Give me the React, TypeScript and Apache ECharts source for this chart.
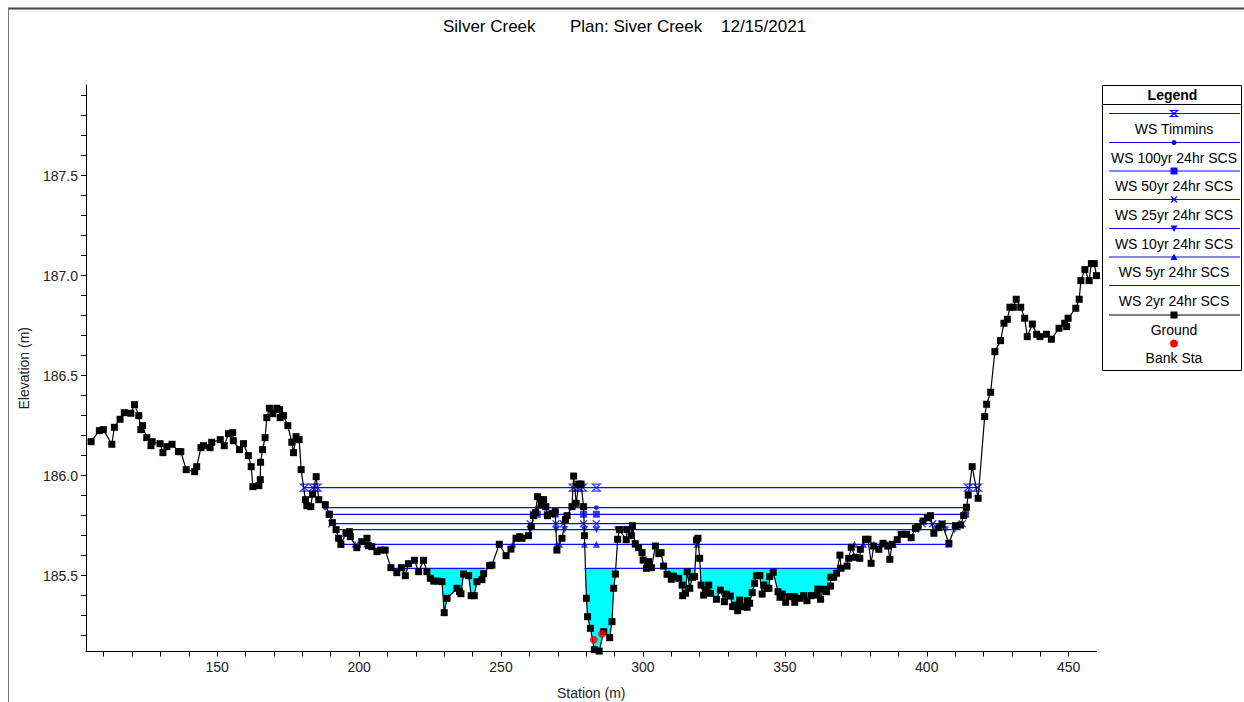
import React, { useEffect, useRef } from "react";
import * as echarts from "echarts";

// ---------- data ----------
const groundStation = [
  105.6, 108.5, 109.9, 112.9, 113.8, 115.8, 117.3, 119.6, 120.9, 122.4, 123.1, 123.7, 125.2, 126.7, 127.1,
  129.9, 130.9, 132.3, 134.1, 136.4, 137.2, 139.1, 142.1, 142.8, 144.3, 145.2, 147.5, 148.1, 151.1, 152.5,
  154.0, 155.5, 155.7, 157.9, 159.3, 161.0, 162.0, 162.6, 164.7, 165.2, 165.3, 166.0, 166.9, 167.5, 168.4,
  169.6, 171.0, 172.0, 172.2, 173.4, 174.9, 176.3, 176.9, 177.8, 178.9, 179.6, 181.1, 181.6, 183.0, 183.6,
  184.9, 185.8, 188.1, 189.5, 190.6, 191.9, 192.8, 193.6, 195.4, 196.6, 196.9, 199.2, 201.0, 202.8, 203.3,
  204.5, 206.3, 207.5, 209.2, 211.2, 213.3, 214.9, 216.3, 217.4, 219.5, 221.0, 222.7, 223.9, 225.1, 226.3,
  227.5, 229.2, 230.0, 231.0, 234.5, 235.4, 235.9, 236.8, 238.6, 239.5, 240.6, 241.5, 243.3, 243.9, 246.0,
  246.8, 249.4, 251.8, 253.5, 255.3, 256.6, 257.4, 259.7, 260.7, 261.5, 262.2, 262.9, 264.1, 264.2, 265.0,
  265.8, 266.4, 268.0, 269.1, 269.7, 271.5, 272.7, 273.3, 275.0, 275.6, 276.5, 277.4, 278.2, 279.1, 279.4,
  280.1, 280.5, 281.5, 282.9, 284.6, 286.2, 288.3, 289.1, 289.7, 290.3, 291.1, 291.7, 294.1, 294.4, 295.9,
  296.3, 297.3, 298.5, 299.7, 300.1, 301.2, 302.0, 303.0, 304.4, 305.6, 306.4, 307.3, 308.5, 310.0, 310.8,
  312.6, 313.8, 314.0, 315.0, 315.6, 316.5, 317.4, 318.2, 318.9, 319.4, 320.0, 320.5, 321.4, 322.4, 323.2,
  323.8, 325.9, 327.3, 328.7, 329.4, 330.8, 331.6, 332.6, 333.4, 334.1, 334.9, 336.7, 336.8, 337.6, 338.5,
  339.3, 340.0, 341.2, 342.0, 342.6, 343.8, 344.4, 344.7, 345.9, 347.6, 348.3, 349.1, 350.3, 351.5, 353.3,
  353.5, 355.4, 356.6, 357.8, 359.2, 361.4, 361.6, 362.6, 363.6, 364.7, 366.1, 366.2, 367.2, 368.2, 369.4,
  369.8, 371.9, 372.5, 373.4, 374.9, 376.4, 376.6, 378.4, 379.3, 380.4, 381.3, 383.1, 384.6, 386.3, 387.0,
  387.8, 389.6, 391.0, 392.9, 394.5, 396.0, 396.9, 398.7, 400.2, 401.3, 402.5, 404.3, 405.4, 407.8, 410.1,
  411.9, 413.0, 414.0, 414.6, 416.0, 418.1, 420.4, 421.1, 422.5, 424.0, 426.0, 427.2, 428.4, 429.3, 430.5,
  431.5, 433.1, 434.5, 435.4, 437.2, 438.7, 439.9, 442.2, 443.9, 446.6, 448.6, 449.3, 449.8, 452.5, 453.7,
  454.3, 455.7, 457.2, 458.0, 459.0, 459.8,
];
const groundElev = [
  186.17, 186.225, 186.23, 186.157, 186.242, 186.282, 186.315, 186.312, 186.355, 186.3, 186.23, 186.25, 186.19, 186.15, 186.17,
  186.16, 186.115, 186.145, 186.157, 186.12, 186.12, 186.03, 186.02, 186.045, 186.14, 186.15, 186.14, 186.167, 186.18, 186.15,
  186.21, 186.215, 186.175, 186.13, 186.16, 186.1, 186.045, 185.945, 185.95, 185.98, 186.067, 186.13, 186.19, 186.29, 186.337,
  186.31, 186.337, 186.33, 186.29, 186.3, 186.25, 186.167, 186.115, 186.195, 186.18, 186.03, 185.88, 185.85, 185.845, 185.907,
  185.995, 185.88, 185.855, 185.807, 185.765, 185.73, 185.687, 185.657, 185.712, 185.72, 185.695, 185.64, 185.67, 185.687, 185.65,
  185.645, 185.62, 185.628, 185.628, 185.54, 185.515, 185.54, 185.5, 185.56, 185.577, 185.52, 185.577, 185.52, 185.487, 185.473,
  185.473, 185.47, 185.315, 185.387, 185.437, 185.42, 185.41, 185.508, 185.5, 185.4, 185.4, 185.47, 185.48, 185.51, 185.55,
  185.553, 185.657, 185.6, 185.633, 185.687, 185.695, 185.687, 185.7, 185.745, 185.8, 185.815, 185.895, 185.88, 185.853, 185.88,
  185.845, 185.8, 185.81, 185.82, 185.628, 185.687, 185.78, 185.8, 185.845, 185.998, 185.862, 185.958, 185.958, 185.845, 185.7,
  185.387, 185.295, 185.237, 185.13, 185.123, 185.22, 185.19, 185.27, 185.437, 185.508, 185.682, 185.73, 185.68, 185.73, 185.7,
  185.75, 185.66, 185.64, 185.615, 185.578, 185.537, 185.57, 185.54, 185.648, 185.61, 185.615, 185.548, 185.507, 185.482, 185.498,
  185.487, 185.453, 185.4, 185.412, 185.52, 185.437, 185.492, 185.495, 185.678, 185.687, 185.587, 185.453, 185.403, 185.428, 185.453,
  185.412, 185.382, 185.428, 185.37, 185.408, 185.398, 185.345, 185.353, 185.325, 185.378, 185.345, 185.342, 185.375, 185.362, 185.415,
  185.462, 185.5, 185.5, 185.408, 185.453, 185.437, 185.437, 185.495, 185.517, 185.42, 185.392, 185.408, 185.367, 185.395, 185.395,
  185.367, 185.387, 185.4, 185.375, 185.4, 185.403, 185.433, 185.382, 185.432, 185.42, 185.448, 185.492, 185.492, 185.512, 185.603,
  185.537, 185.548, 185.587, 185.642, 185.592, 185.587, 185.632, 185.682, 185.682, 185.562, 185.648, 185.632, 185.662, 185.648, 185.582,
  185.657, 185.68, 185.707, 185.707, 185.69, 185.737, 185.745, 185.773, 185.79, 185.8, 185.712, 185.74, 185.758, 185.662, 185.75,
  185.753, 185.8, 185.842, 185.903, 186.045, 185.887, 186.295, 186.357, 186.417, 186.62, 186.675, 186.762, 186.782, 186.842, 186.842,
  186.882, 186.842, 186.787, 186.695, 186.758, 186.707, 186.695, 186.707, 186.682, 186.737, 186.762, 186.745, 186.787, 186.837, 186.882,
  186.975, 187.03, 186.975, 187.06, 187.06, 187.0,
];

const bankStation = [282.7, 285.6];
const bankElev = [185.18, 185.21];

const wsNames = [
  "WS Timmins",
  "WS 100yr 24hr SCS",
  "WS 50yr 24hr SCS",
  "WS 25yr 24hr SCS",
  "WS 10yr 24hr SCS",
  "WS 5yr 24hr SCS",
  "WS 2yr 24hr SCS",
];
const wsElev = [185.94, 185.84, 185.807, 185.76, 185.73, 185.657, 185.537];
const wsSegments = [
  [[180.4, 418.6]],
  [[188.1, 414.0]],
  [[189.5, 413.7]],
  [[190.4, 412.6]],
  [[191.9, 411.9]],
  [[193.6, 408.4]],
  [[212.0, 244.5], [279.4, 368.9]],
];
const wsMarkers = [
  [180.7, 183.8, 185.2, 275.5, 277.2, 278.7, 283.6, 414.7, 417.9],
  [188.1, 262.7, 265.6, 275.0, 279.1, 283.6, 414.0],
  [189.5, 261.4, 262.8, 266.3, 269.1, 279.1, 283.6, 413.7],
  [190.4, 260.3, 269.4, 272.0, 279.1, 283.6, 398.4, 402.1, 405.4, 412.5],
  [191.9, 260.3, 269.4, 272.4, 279.4, 283.6, 291.0, 292.8, 294.6, 296.3, 396.0, 397.2, 403.1, 406.6, 409.8],
  [193.6, 198.6, 199.7, 202.8, 254.2, 269.7, 270.6, 279.4, 283.6, 297.3, 319.1, 374.5, 377.7, 381.3, 383.7, 386.1, 388.3, 407.7],
  [],
];

const xTickValues = [110, 120, 130, 140, 150, 160, 170, 180, 190, 200, 210, 220, 230, 240, 250, 260, 270, 280, 290, 300, 310, 320, 330, 340, 350, 360, 370, 380, 390, 400, 410, 420, 430, 440, 450];
const xLabelValues = [150, 200, 250, 300, 350, 400, 450];
const yTickValues = [185.2, 185.3, 185.4, 185.5, 185.6, 185.7, 185.8, 185.9, 186.0, 186.1, 186.2, 186.3, 186.4, 186.5, 186.6, 186.7, 186.8, 186.9, 187.0, 187.1, 187.2, 187.3, 187.4, 187.5, 187.6, 187.7, 187.8, 187.9];
const yLabelValues = [185.5, 186.0, 186.5, 187.0, 187.5];

const titleParts = ["Silver Creek", "Plan: Siver Creek", "12/15/2021"];

// ---------- styles ----------
const BLUE = "#0a0aff";
const FONT = "'Liberation Sans', Arial, sans-serif";
const HOURGLASS = "path://M0,0L10,0L0,10L10,10Z";
const XMARK = "path://M0,0L10,10M10,0L0,10";

const wsSymbol = [
  { symbol: HOURGLASS, size: [8, 7], hollow: true, rotate: 0 },
  { symbol: "circle", size: 5, hollow: false, rotate: 0 },
  { symbol: "rect", size: 7, hollow: false, rotate: 0 },
  { symbol: XMARK, size: 7, hollow: true, rotate: 0 },
  { symbol: "triangle", size: 7, hollow: false, rotate: 180 },
  { symbol: "triangle", size: 7, hollow: false, rotate: 0 },
  { symbol: "none", size: 0, hollow: false, rotate: 0 },
];

function groundAt(st: number): number {
  for (let i = 0; i < groundStation.length - 1; i++) {
    const a = groundStation[i];
    const b = groundStation[i + 1];
    if (st >= a && st <= b) {
      const t = b === a ? 0 : (st - a) / (b - a);
      return groundElev[i] + t * (groundElev[i + 1] - groundElev[i]);
    }
  }
  return groundElev[groundElev.length - 1];
}

function buildOption() {
  const series: any[] = [];

  // Cyan water fill for the lowest profile
  const fillIdx = 6;
  series.push({
    type: "custom",
    coordinateSystem: "cartesian2d",
    z: 1,
    silent: true,
    data: wsSegments[fillIdx].map((s) => [s[0], s[1], wsElev[fillIdx]]),
    encode: { x: [0, 1], y: 2 },
    renderItem: (params: any, api: any) => {
      const s0 = api.value(0);
      const s1 = api.value(1);
      const ws = api.value(2);
      const pts: number[][] = [];
      pts.push(api.coord([s0, ws]));
      pts.push(api.coord([s0, Math.min(ws, groundAt(s0))]));
      for (let i = 0; i < groundStation.length; i++) {
        const st = groundStation[i];
        if (st > s0 && st < s1) pts.push(api.coord([st, Math.min(ws, groundElev[i])]));
      }
      pts.push(api.coord([s1, Math.min(ws, groundAt(s1))]));
      pts.push(api.coord([s1, ws]));
      return {
        type: "polygon",
        shape: { points: pts },
        style: { fill: "#00ffff", stroke: "none" },
      };
    },
  });

  // WS lines and markers
  wsNames.forEach((name, k) => {
    const lineData: any[] = [];
    wsSegments[k].forEach((seg, j) => {
      if (j > 0) lineData.push(null);
      lineData.push([seg[0], wsElev[k]]);
      lineData.push([seg[1], wsElev[k]]);
    });
    series.push({
      name,
      type: "line",
      data: lineData,
      showSymbol: false,
      symbol: "none",
      connectNulls: false,
      lineStyle: { color: BLUE, width: 1.3 },
      z: 2,
      silent: true,
    });
    const sym = wsSymbol[k];
    if (wsMarkers[k].length) {
      series.push({
        name: name + " markers",
        type: "scatter",
        data: wsMarkers[k].map((st) => [st, wsElev[k]]),
        symbol: sym.symbol,
        symbolSize: sym.size,
        symbolRotate: sym.rotate,
        itemStyle: sym.hollow
          ? { color: "rgba(0,0,0,0)", borderColor: BLUE, borderWidth: 1.3 }
          : { color: BLUE },
        z: 3,
        silent: true,
      });
    }
  });

  // Ground
  series.push({
    name: "Ground",
    type: "line",
    data: groundStation.map((s, i) => [s, groundElev[i]]),
    symbol: "rect",
    symbolSize: 7,
    showSymbol: true,
    showAllSymbol: true,
    itemStyle: { color: "#000" },
    lineStyle: { color: "#000", width: 1.2 },
    z: 5,
    silent: true,
  });

  // Bank stations
  series.push({
    name: "Bank Sta",
    type: "scatter",
    data: bankStation.map((s, i) => [s, bankElev[i]]),
    symbol: "circle",
    symbolSize: 8,
    itemStyle: { color: "#ff0000" },
    z: 6,
    silent: true,
  });

  // Legend (drawn as graphic)
  const lgX = 1102;
  const lgY = 85;
  const lgW = 139;
  const lgH = 285;
  const lineX0 = 1109;
  const lineX1 = 1240;
  const mx = 1174;
  const rowY = [113.5, 142.5, 171, 199.5, 228.5, 257, 285.5, 315];
  const graphics: any[] = [];
  graphics.push({ type: "line", shape: { x1: 8, y1: 8.5, x2: 1244, y2: 8.5 }, style: { stroke: "#444", lineWidth: 2 }, silent: true });
  graphics.push({ type: "line", shape: { x1: 8.5, y1: 8, x2: 8.5, y2: 702 }, style: { stroke: "#777", lineWidth: 1 }, silent: true });
  graphics.push({
    type: "rect",
    shape: { x: lgX + 0.5, y: lgY + 0.5, width: lgW, height: lgH },
    style: { fill: "#fff", stroke: "#000", lineWidth: 1 },
    z: 10,
    silent: true,
  });
  graphics.push({
    type: "text",
    x: lgX + lgW / 2 + 1,
    y: 95,
    z: 11,
    style: { text: "Legend", fontSize: 14, fontWeight: "bold", fontFamily: FONT, fill: "#000", align: "center", verticalAlign: "middle" },
    silent: true,
  });
  graphics.push({ type: "line", shape: { x1: lgX, y1: 104.5, x2: lgX + lgW, y2: 104.5 }, style: { stroke: "#000", lineWidth: 1 }, z: 11, silent: true });
  const legendNames = [...wsNames, "Ground"];
  legendNames.forEach((nm, i) => {
    const y = rowY[i];
    const isGround = i === 7;
    const col = isGround ? "#000" : BLUE;
    graphics.push({ type: "line", shape: { x1: lineX0, y1: y, x2: lineX1, y2: y }, style: { stroke: col, lineWidth: 1.2 }, z: 11, silent: true });
    if (isGround) {
      graphics.push({ type: "rect", shape: { x: mx - 3.5, y: y - 3.5, width: 7, height: 7 }, style: { fill: "#000" }, z: 12, silent: true });
    } else if (i === 0) {
      graphics.push({ type: "polygon", shape: { points: [[mx - 3.5, y - 3], [mx + 3.5, y - 3], [mx - 3.5, y + 3], [mx + 3.5, y + 3]] }, style: { fill: "none", stroke: BLUE, lineWidth: 1.2 }, z: 12, silent: true });
    } else if (i === 1) {
      graphics.push({ type: "circle", shape: { cx: mx, cy: y, r: 2.5 }, style: { fill: BLUE }, z: 12, silent: true });
    } else if (i === 2) {
      graphics.push({ type: "rect", shape: { x: mx - 3.5, y: y - 3.5, width: 7, height: 7 }, style: { fill: BLUE }, z: 12, silent: true });
    } else if (i === 3) {
      graphics.push({ type: "polyline", shape: { points: [[mx - 3, y - 3], [mx + 3, y + 3]] }, style: { stroke: BLUE, lineWidth: 1.2 }, z: 12, silent: true });
      graphics.push({ type: "polyline", shape: { points: [[mx + 3, y - 3], [mx - 3, y + 3]] }, style: { stroke: BLUE, lineWidth: 1.2 }, z: 12, silent: true });
    } else if (i === 4) {
      graphics.push({ type: "polygon", shape: { points: [[mx - 3.5, y - 3], [mx + 3.5, y - 3], [mx, y + 3.5]] }, style: { fill: BLUE }, z: 12, silent: true });
    } else if (i === 5) {
      graphics.push({ type: "polygon", shape: { points: [[mx - 3.5, y + 3], [mx + 3.5, y + 3], [mx, y - 3.5]] }, style: { fill: BLUE }, z: 12, silent: true });
    }
    graphics.push({
      type: "text",
      x: mx,
      y: y + 15,
      z: 12,
      style: { text: nm, fontSize: 14, fontFamily: FONT, fill: "#000", align: "center", verticalAlign: "middle" },
      silent: true,
    });
  });
  graphics.push({ type: "circle", shape: { cx: mx, cy: 343.5, r: 4 }, style: { fill: "#ff0000" }, z: 12, silent: true });
  graphics.push({
    type: "text",
    x: mx,
    y: 358,
    z: 12,
    style: { text: "Bank Sta", fontSize: 14, fontFamily: FONT, fill: "#000", align: "center", verticalAlign: "middle" },
    silent: true,
  });

  // Title
  const titleX = [443, 570, 721];
  titleParts.forEach((t, i) => {
    graphics.push({
      type: "text",
      x: titleX[i],
      y: 26,
      style: { text: t, fontSize: 17, fontFamily: FONT, fill: "#000", align: "left", verticalAlign: "middle" },
      silent: true,
    });
  });

  const axisText = { fontSize: 14, fontFamily: FONT, color: "#222" };

  return {
    animation: false,
    backgroundColor: "#fff",
    grid: { left: 86, top: 85, width: 1010.5, height: 566.5, containLabel: false, outerBoundsMode: "none" },
    xAxis: {
      type: "value",
      min: 103.8,
      max: 459.8,
      name: "Station (m)",
      nameLocation: "middle",
      nameGap: 34,
      nameTextStyle: { ...axisText },
      axisLine: { show: true, onZero: false, lineStyle: { color: "#000", width: 1 } },
      axisTick: { show: true, length: 5, customValues: xTickValues, lineStyle: { color: "#000" } },
      axisLabel: { ...axisText, margin: 8, customValues: xLabelValues },
      splitLine: { show: false },
    },
    yAxis: {
      type: "value",
      min: 185.121,
      max: 187.953,
      name: "Elevation (m)",
      nameLocation: "middle",
      nameGap: 55,
      nameTextStyle: { ...axisText },
      axisLine: { show: true, onZero: false, lineStyle: { color: "#000", width: 1 } },
      axisTick: { show: true, length: 5, customValues: yTickValues, lineStyle: { color: "#000" } },
      axisLabel: { ...axisText, margin: 8, customValues: yLabelValues, formatter: (v: number) => v.toFixed(1) },
      splitLine: { show: false },
    },
    graphic: graphics,
    series,
  };
}

export default function App() {
  const ref = useRef<HTMLDivElement>(null);
  useEffect(() => {
    if (!ref.current) return;
    const chart = echarts.init(ref.current, undefined, { renderer: "svg" });
    chart.setOption(buildOption() as any);
    return () => chart.dispose();
  }, []);
  return (
    <div
      ref={ref}
      style={{ position: "absolute", left: 0, top: 0, width: 1244, height: 702, background: "#fff" }}
    />
  );
}
